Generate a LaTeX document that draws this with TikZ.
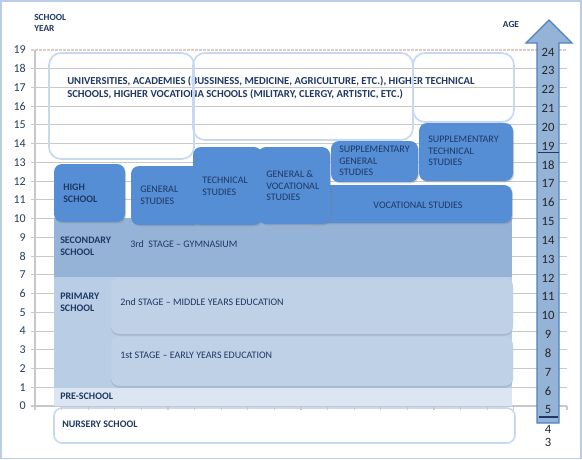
\documentclass[tikz,border=0pt]{standalone}
\usepackage{fontspec}
\setmainfont{Carlito}
\usepackage{tikz}
\usepackage{xcolor}
\usetikzlibrary{shadows}

\definecolor{navy}{HTML}{1F3864}
\definecolor{axisblue}{HTML}{243F60}
\definecolor{gridgray}{HTML}{C8C8C8}
\definecolor{outlineblue}{HTML}{C6D9F1}
\definecolor{frameblue}{HTML}{B9CDE5}
\definecolor{boxblue}{HTML}{558ED5}
\definecolor{secblue}{HTML}{95B3D7}
\definecolor{primblue}{HTML}{B9CDE5}
\definecolor{preblue}{HTML}{DCE6F2}
\definecolor{arrowedge}{HTML}{4F81BD}

\begin{document}
\begin{tikzpicture}[x=0.75pt,y=-0.75pt,
  gridline/.style={draw=gridgray,line width=0.8pt},
  hiedu/.style={draw=outlineblue,line width=1.3pt,rounded corners=9pt},
  bluebox/.style={fill=boxblue,rounded corners=6pt,drop shadow={opacity=0.35,shadow xshift=0.8pt,shadow yshift=-1pt}},
  bandshade/.style={drop shadow={opacity=0.3,shadow xshift=0pt,shadow yshift=-1.2pt}},
  lbl/.style={font=\fontsize{7.5}{8.7}\selectfont\bfseries,text=navy,align=left,anchor=west,inner sep=0pt},
  boxtxt/.style={font=\fontsize{7.5}{8.7}\selectfont,text=navy,align=left,anchor=west,inner sep=0pt},
  yearlbl/.style={font=\fontsize{9}{9}\selectfont,text=axisblue,anchor=east,inner sep=0pt},
  agelbl/.style={font=\fontsize{9.5}{9.5}\selectfont,text=black!85,inner sep=0pt}]
\useasboundingbox (0,0) rectangle (582,460);
\draw[frameblue,line width=1.2pt] (1,1) rectangle (581,458.5);

% grid and school years
\foreach \n in {0,...,18}
  \draw[gridline] (31,{406-18.737*\n}) -- (567,{406-18.737*\n});
\draw[draw=pink!60!gray!60,line width=0.8pt,dash pattern=on 2pt off 1pt] (31,50) -- (567,50);
\draw[gridline] (35,50) -- (35,410);
\foreach \n in {0,...,19}
  \node[yearlbl] (yr\n) at (26,{406-18.737*\n}) {\n};

% higher education
\node[lbl,font=\fontsize{8}{9.4}\selectfont\bfseries] (higher) at (67,88)
  {UNIVERSITIES, ACADEMIES (BUSSINESS, MEDICINE, AGRICULTURE, ETC.), HIGHER TECHNICAL\\
   SCHOOLS, HIGHER VOCATIONA SCHOOLS (MILITARY, CLERGY, ARTISTIC, ETC.)};
\draw[hiedu] (49,53) rectangle (194,159);
\draw[hiedu] (193,53) rectangle (413,140);
\draw[hiedu] (413,53) rectangle (514,122);

% school bands
\path[fill=secblue,bandshade] (54,218) rectangle (512,277);
\path[fill=primblue] (54,277) rectangle (512,388);
\path[fill=primblue!92!white,rounded corners=6pt,bandshade] (111,278) rectangle (513,334);
\path[fill=primblue!92!white,rounded corners=6pt,bandshade] (111,337) rectangle (513,386);
\path[fill=preblue] (54,388) rectangle (512,406);
\draw[draw=outlineblue,fill=white,line width=1.2pt,rounded corners=6pt] (54,408) rectangle (515,443);
\foreach \k in {1,...,20}
  \draw[gridline] ({35+26.6*\k},406) -- ({35+26.6*\k},410);

\node[lbl] (secondary) at (60,246) {SECONDARY\\SCHOOL};
\node[boxtxt] (gymnasium) at (130,244) {3rd\ \ STAGE – GYMNASIUM};
\node[lbl] (primary) at (60,302) {PRIMARY\\SCHOOL};
\node[boxtxt] (middle) at (120,302) {2nd STAGE – MIDDLE YEARS EDUCATION};
\node[boxtxt] (early) at (120,355) {1st STAGE – EARLY YEARS EDUCATION};
\node[lbl] (preschool) at (60,396) {PRE-SCHOOL};
\node[lbl] (nursery) at (62,424) {NURSERY SCHOOL};

% high school tracks
\path[bluebox] (131,166) rectangle (202,225);
\path[bluebox] (300,185) rectangle (512,223);
\path[bluebox] (193,147) rectangle (262,225);
\path[bluebox] (258,147) rectangle (330,224);
\path[bluebox] (331,141) rectangle (418,182);
\path[bluebox] (419,123) rectangle (513,181);
\path[bluebox] (54,164) rectangle (125,222);
\node[lbl] (high) at (63,193) {HIGH\\SCHOOL};
\node[boxtxt] (general) at (140,195) {GENERAL\\STUDIES};
\node[boxtxt] (technical) at (202,186) {TECHNICAL\\STUDIES};
\node[boxtxt] (genvoc) at (266,186) {GENERAL \&\\VOCATIONAL\\STUDIES};
\node[boxtxt] (suppgen) at (339,161) {SUPPLEMENTARY\\GENERAL\\STUDIES};
\node[boxtxt] (supptech) at (428,151) {SUPPLEMENTARY\\TECHNICAL\\STUDIES};
\node[boxtxt,anchor=center] (vocational) at (418,205) {VOCATIONAL STUDIES};

% age arrow
\draw[fill=secblue,draw=arrowedge,line width=1pt,line join=miter]
  (537,423) -- (537,43) -- (526,43) -- (549,20) -- (572,43) -- (559,43) -- (559,423) -- cycle;
\foreach \a in {5,...,24}
  \node[agelbl] (age\a) at (548,{52+18.84*(24-\a)}) {\a};
\node[agelbl] (age4) at (548,429) {4};
\node[agelbl] (age3) at (548,442) {3};
\draw[navy,line width=1pt] (538,152.5) -- (559,152.5);
\draw[navy,line width=1pt] (539,417) -- (558,417);

% headings
\node[lbl,font=\fontsize{7}{8.6}\selectfont\bfseries] (schoolyear) at (34,23) {SCHOOL\\YEAR};
\node[lbl,font=\fontsize{7}{8.6}\selectfont\bfseries,anchor=center] (agehead) at (511,24) {AGE};
\end{tikzpicture}
\end{document}
